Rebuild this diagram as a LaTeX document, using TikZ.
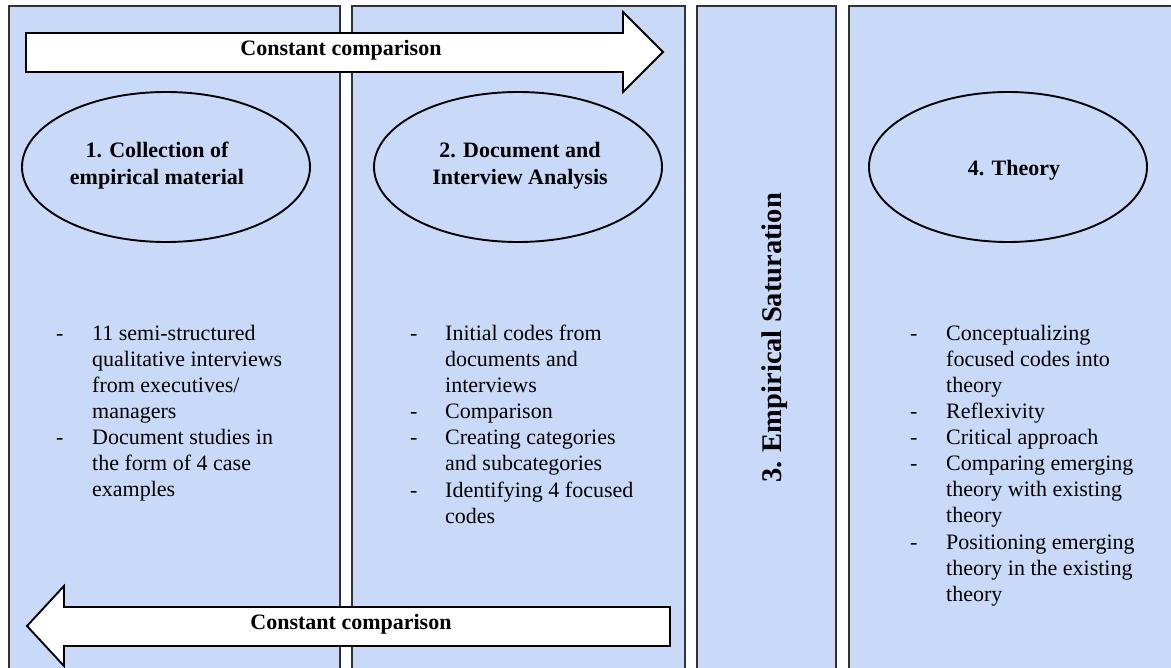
\documentclass[tikz,border=0pt]{standalone}
\usepackage{fontspec}
\setmainfont{Liberation Serif}
\usetikzlibrary{shapes.geometric}
\definecolor{colfill}{HTML}{C9DAF8}
\definecolor{colline}{HTML}{333333}
\tikzset{
  column/.style={draw=colline, line width=1.8pt, fill=colfill},
  oval/.style={ellipse, draw=black, line width=1.9pt, fill=colfill, minimum width=288pt, minimum height=150pt, inner sep=0pt},
  bigarrow/.style={draw=black, line width=1.9pt, fill=white, line join=miter},
  title/.style={font=\bfseries\fontsize{22}{27}\selectfont, inner sep=0pt, anchor=base},
  bodytext/.style={font=\fontsize{22}{26}\selectfont, inner sep=0pt, anchor=base west},
  dashmark/.style={font=\fontsize{22}{26}\selectfont, inner sep=0pt, anchor=base west}
}
\newcommand\linesL[1]{\begin{tabular}[t]{@{}l@{}}#1\end{tabular}}
\newcommand\linesC[1]{\begin{tabular}[t]{@{}c@{}}#1\end{tabular}}
\begin{document}
\begin{tikzpicture}[x=1pt,y=-1pt]
\useasboundingbox[fill=white] (0,0) rectangle (1171,668);
\begin{scope}
\clip (0,0) rectangle (1171,668);
% columns
\draw[column] (9,6) rectangle (340,700);
\draw[column] (352,6) rectangle (685,700);
\draw[column] (697,6) rectangle (836,700);
\draw[column] (849,6) rectangle (1200,700);
% ellipses
\node[oval] (e1) at (166,167) {};
\node[oval] (e2) at (518,167) {};
\node[oval, minimum width=278pt] (e4) at (1008,167) {};
\node[title] (t1) at (157,158) {\linesC{1. Collection of\\empirical material}};
\node[title] (t2) at (520,158) {\linesC{2. Document and\\Interview Analysis}};
\node[title] (t4) at (1014,176) {4. Theory};
\node[title, font=\bfseries\fontsize{28.5}{32}\selectfont, rotate=90] (t3) at (781,338) {3. Empirical Saturation};
% top arrow
\draw[bigarrow] (26,33) -- (623,33) -- (623,12) -- (663,52) -- (623,92) -- (623,72) -- (26,72) -- cycle;
\node[title] (a1) at (341,56) {Constant comparison};
% bottom arrow
\draw[bigarrow] (670,607) -- (64,607) -- (64,586) -- (27,626) -- (64,666) -- (64,646) -- (670,646) -- cycle;
\node[title] (a2) at (351,629) {Constant comparison};
% column 1 list
\node[dashmark] (d11) at (56,341) {-};
\node[bodytext] (l11) at (92,341) {\linesL{11 semi-structured\\qualitative interviews\\from executives/\\managers}};
\node[dashmark] (d12) at (56,445) {-};
\node[bodytext] (l12) at (92,445) {\linesL{Document studies in\\the form of 4 case\\examples}};
% column 2 list
\node[dashmark] (d21) at (410,341) {-};
\node[bodytext] (l21) at (445,341) {\linesL{Initial codes from\\documents and\\interviews}};
\node[dashmark] (d22) at (410,419) {-};
\node[bodytext] (l22) at (445,419) {Comparison};
\node[dashmark] (d23) at (410,445) {-};
\node[bodytext] (l23) at (445,445) {\linesL{Creating categories\\and subcategories}};
\node[dashmark] (d24) at (410,497) {-};
\node[bodytext] (l24) at (445,497) {\linesL{Identifying 4 focused\\codes}};
% column 4 list
\node[dashmark] (d41) at (910,341) {-};
\node[bodytext] (l41) at (946,341) {\linesL{Conceptualizing\\focused codes into\\theory}};
\node[dashmark] (d42) at (910,419) {-};
\node[bodytext] (l42) at (946,419) {Reflexivity};
\node[dashmark] (d43) at (910,445) {-};
\node[bodytext] (l43) at (946,445) {Critical approach};
\node[dashmark] (d44) at (910,471) {-};
\node[bodytext] (l44) at (946,471) {\linesL{Comparing emerging\\theory with existing\\theory}};
\node[dashmark] (d45) at (910,549) {-};
\node[bodytext] (l45) at (946,549) {\linesL{Positioning emerging\\theory in the existing\\theory}};
\end{scope}
\end{tikzpicture}
\end{document}
